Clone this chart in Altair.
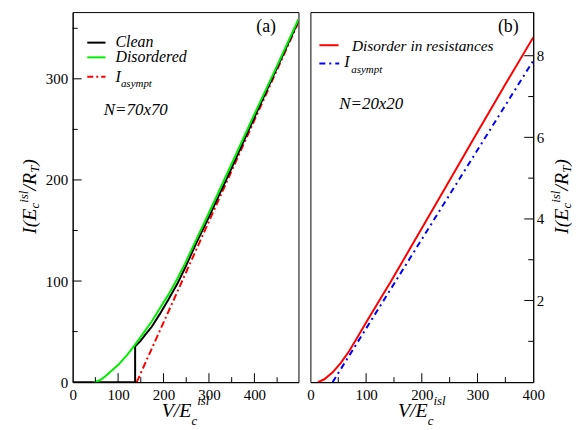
import altair as alt
import pandas as pd

# ---------------- data: panel (a) N=70x70 ----------------
clean_V = [0, 137.5, 137.5, 142, 148.5, 160, 174.5, 192, 210.5, 230, 247, 272.5, 300, 350, 400, 450, 497]
clean_I = [0, 0, 35.4, 37.5, 40.3, 47, 55, 67.5, 81.4, 97, 112.6, 138, 163.5, 212, 262, 311, 357.5]
dis_V = [47, 60, 72, 85, 101, 120, 137.5, 155, 174, 192, 210.5, 230, 247, 270, 300, 350, 400, 450, 497]
dis_I = [0, 1.8, 5.9, 11, 17.4, 27, 37.1, 48, 60, 73, 86.3, 102, 117, 139, 167.5, 216, 265, 313, 359]
asa_V = [141, 497]
asa_I = [0, 356]

# ---------------- data: panel (b) N=20x20 ----------------
res_V = [13.6, 25, 40, 55, 70, 85, 100, 130, 145, 200, 250, 300, 350, 400]
res_I = [0, 0.07, 0.24, 0.48, 0.77, 1.11, 1.46, 2.14, 2.48, 3.77, 4.95, 6.13, 7.3, 8.45]
asb_V = [40, 400]
asb_I = [0, 7.88]

# ---------------- ticks ----------------
a_xlabels = [0, 100, 200, 300, 400]
a_ylabels = [0, 100, 200, 300]
a_xmajor = [100, 200, 300, 400]
a_xminor = [50, 150, 250, 350, 450]
a_ymajor = [100, 200, 300]
a_yminor = [50, 150, 250, 350]

b_xlabels = [0, 100, 200, 300, 400]
b_ylabels = [2, 4, 6, 8]
b_xmajor = [100, 200, 300]
b_xminor = [50, 150, 250, 350]
b_ymajor = [2, 4, 6, 8]
b_yminor = [1, 3, 5, 7]

SERIF = "Liberation Serif, Times New Roman, Times, DejaVu Serif, serif"
WA, WB, H = 227, 224, 372
ONE = pd.DataFrame({"d": [0]})

CW = {'I': .333, '(': .333, 'E': .611, 'c': .444, 'i': .278, 's': .389, 'l': .278,
      '/': .278, 'R': .611, 'T': .556, ')': .333, 'V': .611}


def tw(s, size):
    return sum(CW[ch] for ch in s) * size


def txt(s, x, y, size=16, italic=True, angle=0, align="left", baseline="alphabetic", color="black"):
    kw = dict(text=s, font=SERIF, fontSize=size, align=align, baseline=baseline, color=color)
    if italic:
        kw["fontStyle"] = "italic"
    if angle:
        kw["angle"] = angle
    return alt.Chart(ONE).mark_text(**kw).encode(x=alt.value(x), y=alt.value(y))


def legline(x1, x2, y, color, dash=None):
    kw = dict(color=color, strokeWidth=2)
    if dash:
        kw["strokeDash"] = dash
    return alt.Chart(ONE).mark_rule(**kw).encode(x=alt.value(x1), x2=alt.value(x2), y=alt.value(y))


def xtitle(cx, base):
    total = tw("V/E", 20) + tw("c", 13) + tw("isl", 13)
    x0 = cx - total / 2
    return [
        txt("V/E", x0, base, 20),
        txt("c", x0 + tw("V/E", 20), base + 8, 13),
        txt("isl", x0 + tw("V/E", 20) + tw("c", 13), base - 12, 13),
    ]


def ytitle(xmain, y0):
    pieces = []
    y = y0
    pieces.append(txt("I(E", xmain, y, 20, angle=270)); y -= tw("I(E", 20)
    pieces.append(txt("c", xmain + 3, y, 13, angle=270)); y -= tw("c", 13)
    pieces.append(txt("isl", xmain - 8, y, 13, angle=270)); y -= tw("isl", 13)
    pieces.append(txt("/R", xmain, y, 20, angle=270)); y -= tw("/R", 20)
    pieces.append(txt("T", xmain + 3, y, 13, angle=270)); y -= tw("T", 13)
    pieces.append(txt(")", xmain, y, 20, angle=270))
    return pieces


def panel(xmax, ymax, yorient, xl, yl, xmaj, xmin, ymaj, ymin, series, extras):
    xs = alt.Scale(domain=[0, xmax], nice=False, zero=False)
    ys = alt.Scale(domain=[0, ymax], nice=False, zero=False)
    X = alt.X("V:Q", scale=xs, axis=alt.Axis(values=xl, title=None, labelFlush=False,
                                              labelPadding=5, ticks=False, tickSize=0,
                                              grid=False, labelOverlap=False))
    Y = alt.Y("I:Q", scale=ys, axis=alt.Axis(values=yl, title=None, orient=yorient,
                                              labelPadding=5 if yorient == "left" else 3,
                                              ticks=False, tickSize=0, grid=False,
                                              labelOverlap=False))
    layers = []
    for V, I, color, dash in series:
        df = pd.DataFrame({"V": V, "I": I, "k": list(range(len(V)))})
        kw = dict(color=color, strokeWidth=2, clip=True)
        if dash:
            kw["strokeDash"] = dash
        layers.append(alt.Chart(df).mark_line(**kw).encode(x=X, y=Y, order="k:Q"))
    # tick marks (inward)
    for vals, ln in [(xmaj, 9), (xmin, 5)]:
        layers.append(alt.Chart(pd.DataFrame({"V": vals})).mark_rule(color="black", strokeWidth=1)
                      .encode(x=X, y=alt.value(H), y2=alt.value(H - ln)))
    for vals, ln in [(ymaj, 9), (ymin, 5)]:
        if yorient == "left":
            x1, x2 = 0, ln
        else:
            x1, x2 = (WB - ln), WB
        layers.append(alt.Chart(pd.DataFrame({"I": vals})).mark_rule(color="black", strokeWidth=1)
                      .encode(y=Y, x=alt.value(x1), x2=alt.value(x2)))
    layers += extras
    return alt.layer(*layers)


# ---------------- panel (a) ----------------
extras_a = [
    txt(".", -64, 100, 10, italic=False, color="white"),
    legline(14.7, 33, 30.7, "black"),
    txt("Clean", 43, 35.5),
    legline(14.7, 33, 45.5, "#00ee00"),
    txt("Disordered", 43, 50.5),
    legline(14.7, 33, 65, "red", [6, 3, 2, 3]),
    txt("I", 43, 70),
    txt("asympt", 48.5, 75, 11),
    txt("N=70x70", 31.3, 103.5, 17),
    txt("(a)", 194.5, 20, 18, italic=False, align="center"),
] + xtitle(WA / 2, 407) + ytitle(-37, 223)

series_a = [
    (asa_V, asa_I, "red", [7, 3, 2, 3]),
    (clean_V, clean_I, "black", None),
    (dis_V, dis_I, "#00ee00", None),
]
left = panel(497, 366, "left", a_xlabels, a_ylabels, a_xmajor, a_xminor, a_ymajor, a_yminor,
             series_a, extras_a).properties(width=WA, height=H)

# ---------------- panel (b) ----------------
extras_b = [
    legline(9, 28.3, 33.3, "red"),
    txt("Disorder in resistances", 41.7, 39.5, 15.4),
    legline(9, 29, 51.7, "blue", [6, 4, 2, 4]),
    txt("I", 34, 55),
    txt("asympt", 41, 61, 11),
    txt("N=20x20", 29, 97, 17),
    txt("(b)", 199, 20, 18, italic=False, align="center"),
] + xtitle(WB / 2, 407) + ytitle(259, 223)

series_b = [
    (asb_V, asb_I, "blue", [6, 4, 2, 4]),
    (res_V, res_I, "red", None),
]
right = panel(400, 9.07, "right", b_xlabels, b_ylabels, b_xmajor, b_xminor, b_ymajor, b_yminor,
              series_b, extras_b).properties(width=WB, height=H)

chart = alt.hconcat(left, right, spacing=12, bounds="flush").properties(
    padding={"left": 0, "top": 2, "right": 0, "bottom": 0}
).configure_view(stroke="black", strokeWidth=1).configure_axis(
    domainColor="black", domainWidth=1, labelFont=SERIF, labelFontSize=15, labelColor="black"
)

chart.save("out.html", embed_options={"renderer": "svg", "actions": False})
